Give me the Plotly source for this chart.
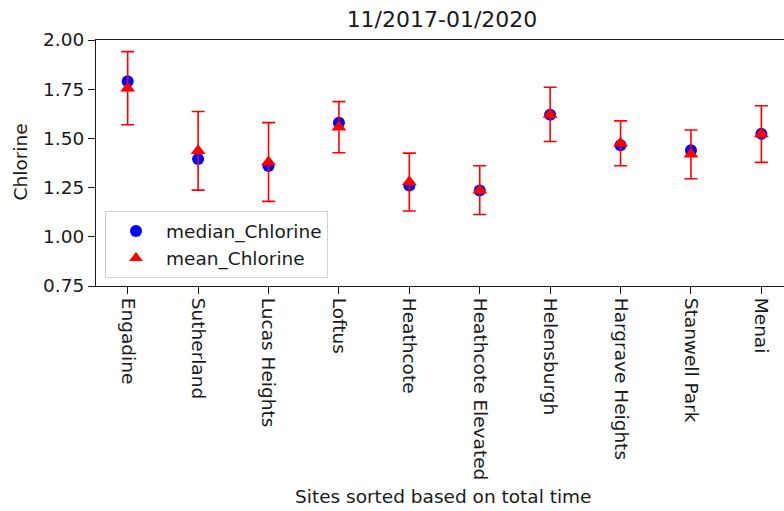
import plotly.graph_objects as go

sites = ["Engadine", "Sutherland", "Lucas Heights", "Loftus", "Heathcote",
         "Heathcote Elevated", "Helensburgh", "Hargrave Heights", "Stanwell Park", "Menai"]
median_chlorine = [1.79, 1.395, 1.36, 1.58, 1.26, 1.235, 1.62, 1.465, 1.44, 1.523]
mean_chlorine = [1.755, 1.437, 1.38, 1.557, 1.278, 1.237, 1.622, 1.475, 1.419, 1.522]
std_chlorine = [0.186, 0.2, 0.2, 0.13, 0.147, 0.124, 0.138, 0.114, 0.124, 0.144]
y_ticks = [0.75, 1.00, 1.25, 1.50, 1.75, 2.00]

W, H = 784, 511
L, T, B = 96, 39.5, 225.3
FONT = "DejaVu Sans"

x_idx = list(range(len(sites)))

fig = go.Figure()
fig.add_trace(go.Scatter(
    x=x_idx, y=median_chlorine, mode="markers", name="median_Chlorine",
    marker=dict(symbol="circle", size=12, color="#0000ff"),
))
fig.add_trace(go.Scatter(
    x=x_idx, y=mean_chlorine, mode="markers", name="mean_Chlorine",
    marker=dict(symbol="triangle-up", size=13, color="#ff0000"),
    error_y=dict(type="data", array=std_chlorine, visible=True,
                 color="#ff0000", thickness=1.6, width=6.5),
))

plot_w = W - L
plot_h = H - T - B

fig.update_layout(
    width=W, height=H,
    margin=dict(l=L, r=0, t=T, b=B, autoexpand=False),
    paper_bgcolor="white", plot_bgcolor="white",
    font=dict(family=FONT, size=18, color="#1a1a1a"),
    showlegend=True,
    legend=dict(
        x=(105 - L) / plot_w, y=(H - B - 211) / plot_h,
        xanchor="left", yanchor="top",
        bgcolor="rgba(255,255,255,0.85)", bordercolor="#d0d0d0", borderwidth=1,
        font=dict(family=FONT, size=18.5, color="#1a1a1a"),
        itemsizing="constant", tracegroupgap=2, itemwidth=50,
    ),
    title=dict(text="11/2017-01/2020", x=442 / W, y=1 - 19 / H,
               xanchor="center", yanchor="middle",
               font=dict(family=FONT, size=22, color="#1a1a1a")),
    xaxis=dict(
        range=[-0.45, -0.45 + plot_w / 70.41],
        tickmode="array", tickvals=x_idx, ticktext=sites, tickangle=90,
        ticks="outside", ticklen=7, tickwidth=1, tickcolor="#1a1a1a",
        showline=True, linecolor="#1a1a1a", linewidth=1.2, mirror=True,
        showgrid=False, zeroline=False, automargin=False,
        tickfont=dict(family=FONT, size=18.5, color="#1a1a1a"),
    ),
    yaxis=dict(
        range=[0.75, 2.00],
        tickmode="array", tickvals=y_ticks, ticktext=[f"{v:.2f}" for v in y_ticks],
        ticks="outside", ticklen=7, tickwidth=1, tickcolor="#1a1a1a",
        showline=True, linecolor="#1a1a1a", linewidth=1.2,
        showgrid=False, zeroline=False, automargin=False,
        tickfont=dict(family=FONT, size=18.5, color="#1a1a1a"),
    ),
    annotations=[
        dict(text="Sites sorted based on total time", xref="paper", yref="paper",
             x=(443 - L) / plot_w, y=(H - B - 496) / plot_h,
             xanchor="center", yanchor="middle", showarrow=False,
             font=dict(family=FONT, size=18.5, color="#1a1a1a")),
        dict(text="Chlorine", xref="paper", yref="paper",
             x=(20 - L) / plot_w, y=(H - B - 162) / plot_h, textangle=-90,
             xanchor="center", yanchor="middle", showarrow=False,
             font=dict(family=FONT, size=18.5, color="#1a1a1a")),
    ],
)

fig.write_html("out.html", config={"displayModeBar": False},
               post_script="document.body.style.margin='0';document.body.style.overflow='hidden';")
